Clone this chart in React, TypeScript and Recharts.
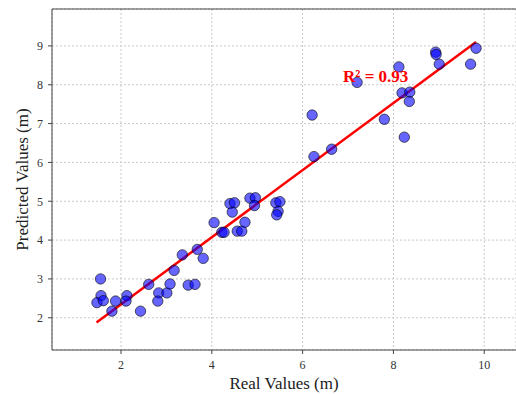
import React from 'react';
import {
  ScatterChart,
  Scatter,
  XAxis,
  YAxis,
  CartesianGrid,
  ReferenceLine,
  ReferenceDot,
} from 'recharts';

const realValues = [
  1.55, 1.56, 1.47, 1.61, 1.8, 1.88, 2.13, 2.11, 2.43, 2.61,
  2.83, 2.81, 3.01, 3.08, 3.17, 3.35, 3.48, 3.63, 3.68, 3.81,
  4.05, 4.22, 4.27, 4.4, 4.5, 4.45, 4.56, 4.66, 4.73, 4.84,
  4.96, 4.94, 5.41, 5.5, 5.46, 5.43, 6.21, 6.25, 6.64, 7.2,
  7.8, 8.12, 8.19, 8.36, 8.35, 8.24, 8.93, 8.94, 9.01, 9.7,
  9.82,
];

// Predicted values, same order
const predictedValues = [
  3.0, 2.57, 2.39, 2.44, 2.17, 2.43, 2.57, 2.43, 2.17, 2.86,
  2.64, 2.43, 2.64, 2.87, 3.22, 3.62, 2.84, 2.86, 3.76, 3.53,
  4.45, 4.2, 4.2, 4.94, 4.96, 4.72, 4.23, 4.23, 4.46, 5.08,
  5.09, 4.89, 4.96, 4.99, 4.74, 4.65, 7.22, 6.15, 6.34, 8.06,
  7.11, 8.46, 7.79, 7.81, 7.57, 6.65, 8.84, 8.78, 8.53, 8.53,
  8.94,
];

// fitted line end points
const fitX = [1.46, 9.82];
const fitY = [1.88, 9.1];

const xTicks = [2, 4, 6, 8, 10];
const yTicks = [2, 3, 4, 5, 6, 7, 8, 9];
const xDomain = [0.48, 10.7];
const yDomain = [1.17, 9.95];

const r2Label = 'R² = 0.93';

const points = realValues.map((x, i) => ({ x, y: predictedValues[i] }));

const SERIF = '"Liberation Serif", "Times New Roman", serif';

const Dot = (props: any) => (
  <circle
    cx={props.cx}
    cy={props.cy}
    r={5.2}
    fill="#0000ff"
    fillOpacity={0.6}
    stroke="#000"
    strokeOpacity={0.6}
    strokeWidth={1}
  />
);

export default function App() {
  return (
    <div style={{ position: 'absolute', left: 0, top: 0, background: '#fff' }}>
      <ScatterChart
        width={516}
        height={394}
        margin={{ top: 9, right: 0, bottom: 0, left: 0 }}
      >
        <CartesianGrid stroke="#c8c8c8" strokeDasharray="2 2" />
        <XAxis
          type="number"
          dataKey="x"
          domain={xDomain}
          ticks={xTicks}
          allowDataOverflow
          height={44}
          tickSize={4}
          tickMargin={6}
          stroke="#444"
          tick={{ fill: '#333', fontSize: 12, fontFamily: SERIF }}
          label={{
            value: 'Real Values (m)',
            position: 'insideBottom',
            offset: 5,
            style: { fill: '#222', fontSize: 17, fontFamily: SERIF },
          }}
        />
        <YAxis
          type="number"
          dataKey="y"
          domain={yDomain}
          ticks={yTicks}
          allowDataOverflow
          width={52}
          tickSize={4}
          tickMargin={5}
          stroke="#444"
          tick={{ fill: '#333', fontSize: 12, fontFamily: SERIF }}
          label={{
            value: 'Predicted Values (m)',
            angle: -90,
            position: 'insideLeft',
            offset: 22,
            style: { textAnchor: 'middle', fill: '#222', fontSize: 17, fontFamily: SERIF },
          }}
        />
        <ReferenceLine y={yDomain[1]} stroke="#444" />
        <Scatter data={points} shape={Dot} isAnimationActive={false} />
        <ReferenceLine
          segment={[
            { x: fitX[0], y: fitY[0] },
            { x: fitX[1], y: fitY[1] },
          ]}
          stroke="#ff0000"
          strokeWidth={2.5}
        />
        <ReferenceDot
          x={7.61}
          y={8.23}
          r={0}
          fill="none"
          stroke="none"
          label={{
            value: r2Label,
            position: 'center',
            style: { fill: '#ff0000', fontSize: 17, fontWeight: 'bold', fontFamily: SERIF },
          }}
        />
      </ScatterChart>
    </div>
  );
}
